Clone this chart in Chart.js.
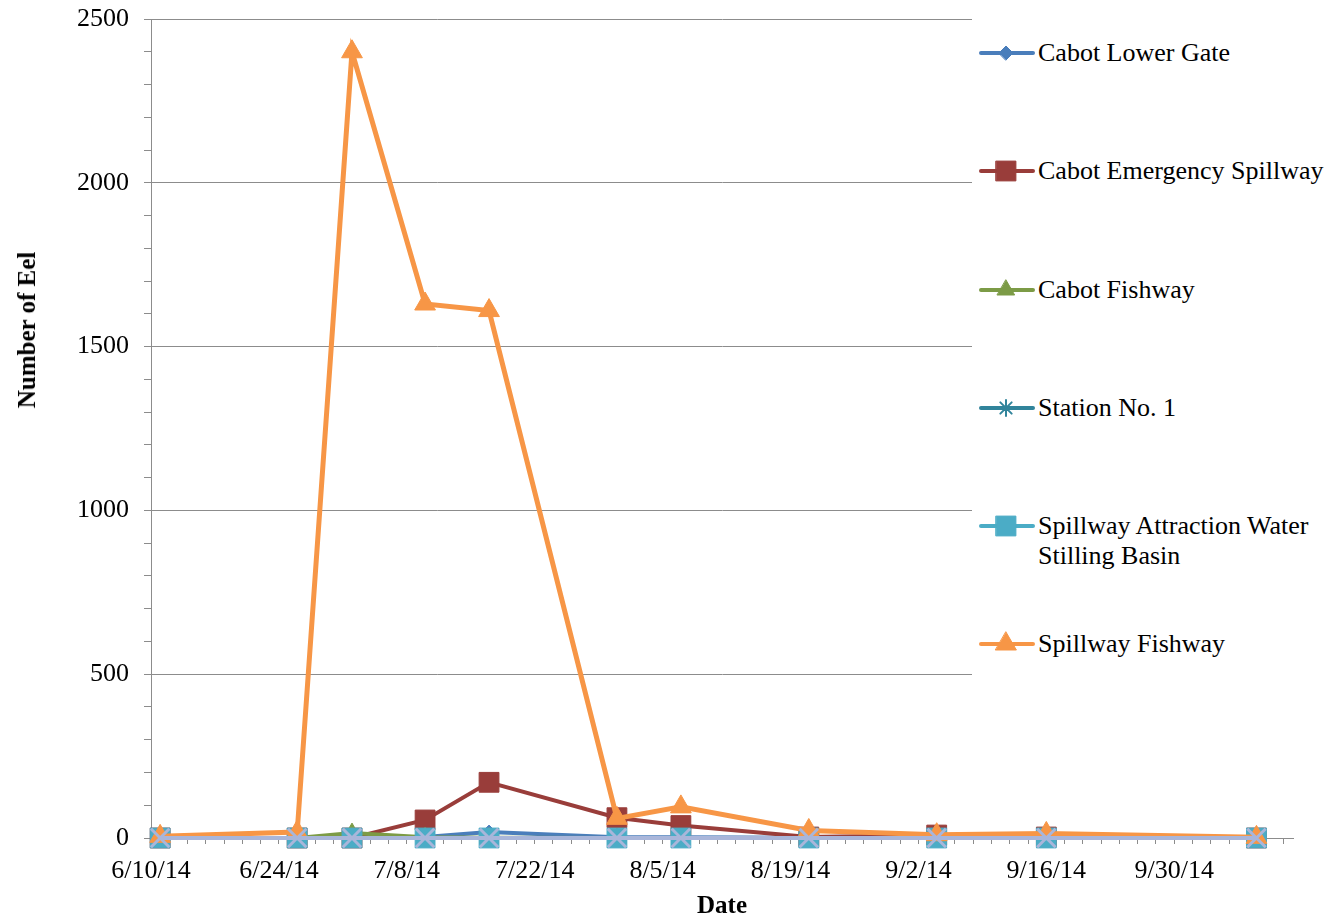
<!DOCTYPE html>
<html>
<head>
<meta charset="utf-8">
<script src="https://cdn.jsdelivr.net/npm/chart.js@4.4.1/dist/chart.umd.min.js"></script>
<style>
  body { margin: 0; background: #fff; }
  #wrap { position: relative; width: 1342px; height: 919px; font-family: "Liberation Serif", "Times New Roman", serif; }
  #chart { position: absolute; left: 0; top: 0; }
  #ytitle { position: absolute; left: 27px; top: 330px; transform: translate(-50%, -50%) rotate(-90deg);
            font-weight: bold; font-size: 25px; white-space: nowrap; color: #000; }
  #legend { position: absolute; left: 972px; top: 0; width: 370px; height: 730px; background: #fff; }
  .item { position: absolute; left: 6px; }
  .item canvas { position: absolute; left: 0; top: 0; }
  .item span { position: absolute; left: 60px; top: 0; font-size: 26px; line-height: 30px; color: #000; white-space: nowrap; }
</style>
</head>
<body>
<div id="wrap">
  <canvas id="chart" width="1342" height="919"></canvas>
  <div id="ytitle">Number of Eel</div>
  <div id="legend"></div>
</div>
<script>
// sampling dates (day offsets from 6/10/14 are used on the x scale)
const baseDate = '6/10/14';
const sampleDates = ['6/11/14', '6/26/14', '7/2/14', '7/10/14', '7/17/14', '7/31/14', '8/7/14', '8/21/14', '9/4/14', '9/16/14', '10/9/14'];

const seriesNames = ['Cabot Lower Gate', 'Cabot Emergency Spillway', 'Cabot Fishway', 'Station No. 1',
                     'Spillway Attraction Water\nStilling Basin', 'Spillway Fishway'];

const cabotLowerGate          = [0, 0, 2, 3, 18, 2, 2, 1, 0, 0, 0];
const cabotEmergencySpillway  = [0, 0, 0, 55, 170, 62, 38, 3, 9, 3, 0];
const cabotFishway            = [0, 0, 15, 2, 1, 0, 0, 0, 0, 0, 0];
const stationNo1              = [0, 0, 0, 0, 0, 0, 0, 0, 0, 0, 0];
const attractionStillingBasin = [0, 0, 0, 0, 0, 0, 0, 0, 0, 0, 0];
const spillwayFishway         = [5, 18, 2400, 1630, 1610, 60, 95, 23, 10, 14, 2];
const unlistedSeries          = [0, 0, 0, 0, 0, 0, 0, 0, 0, 0, 0];

const yTicks = [0, 500, 1000, 1500, 2000, 2500];

function parseDate(s) {
  const p = s.split('/').map(Number);
  return Date.UTC(2000 + p[2], p[0] - 1, p[1]);
}
const base = parseDate(baseDate);
const dayOf = s => Math.round((parseDate(s) - base) / 86400000);
function labelOf(day) {
  const d = new Date(base + day * 86400000);
  return (d.getUTCMonth() + 1) + '/' + d.getUTCDate() + '/' + String(d.getUTCFullYear()).slice(2);
}
const pts = vals => vals.map((v, i) => ({ x: dayOf(sampleDates[i]), y: v }));

const styles = [
  { color: '#4A7EBB', pointStyle: 'rectRot',  radius: 7,  bw: 1 },
  { color: '#993D3A', pointStyle: 'rect',     radius: 14, bw: 1 },
  { color: '#7C9B46', pointStyle: 'triangle', radius: 10, bw: 1 },
  { color: '#31849B', pointStyle: 'star',     radius: 8,  bw: 2 },
  { color: '#4BACC6', pointStyle: 'rect',     radius: 14, bw: 1 },
  { color: '#F79646', pointStyle: 'triangle', radius: 12, bw: 1 },
  { color: '#A9B6DA', pointStyle: 'crossRot', radius: 13, bw: 3 }
];
const values = [cabotLowerGate, cabotEmergencySpillway, cabotFishway, stationNo1,
                attractionStillingBasin, spillwayFishway, unlistedSeries];

// later series are drawn on top, as in the original
const datasets = values.map((v, i) => ({
  label: seriesNames[i] || '',
  data: pts(v),
  order: values.length - i,
  borderColor: styles[i].color,
  backgroundColor: styles[i].color,
  pointBackgroundColor: styles[i].color,
  pointBorderColor: styles[i].color,
  pointStyle: styles[i].pointStyle,
  pointRadius: styles[i].radius,
  pointBorderWidth: styles[i].bw,
  borderWidth: i === 5 ? 5 : 4,
  tension: 0,
  clip: false
}));

const gridGray = '#8C8C8C';
const font = { family: '"Liberation Serif", "Times New Roman", serif', size: 26 };

new Chart(document.getElementById('chart'), {
  type: 'line',
  data: { datasets: datasets },
  options: {
    responsive: false,
    animation: false,
    layout: { padding: { left: 0, right: 49, top: 19, bottom: 0 } },
    plugins: { legend: { display: false }, tooltip: { enabled: false } },
    scales: {
      x: {
        type: 'linear',
        min: 0,
        max: 125,
        afterFit: s => { s.height = 81; },
        afterBuildTicks: s => { s.ticks = []; for (let d = 0; d <= 124; d += 2) s.ticks.push({ value: d }); },
        ticks: {
          autoSkip: false, maxRotation: 0, padding: 12, color: '#000', font: font,
          callback: v => (v % 14 === 0 && v <= 112) ? labelOf(v) : ''
        },
        grid: { drawOnChartArea: false, drawTicks: true, tickLength: 6, tickColor: gridGray },
        border: { color: gridGray, width: 1 },
        title: { display: true, text: 'Date', color: '#000', padding: { top: 0, bottom: 0 },
                 font: { family: font.family, size: 25, weight: 'bold', lineHeight: 1.0 } }
      },
      y: {
        min: 0,
        max: 2500,
        afterFit: s => { s.width = 151; s.paddingTop = 0; s.paddingBottom = 0; },
        afterBuildTicks: s => { s.ticks = []; for (let v = 0; v <= 2500; v += 100) s.ticks.push({ value: v }); },
        ticks: {
          autoSkip: false, padding: 15, color: '#000', font: font,
          callback: v => yTicks.includes(v) ? String(v) : ''
        },
        grid: {
          color: c => (c.tick && c.tick.value % 500 === 0 && c.tick.value > 0) ? gridGray : 'rgba(0,0,0,0)',
          tickColor: gridGray, tickLength: 7, lineWidth: 1
        },
        border: { color: gridGray, width: 1 }
      }
    }
  }
});

// legend
const legend = document.getElementById('legend');
const centers = [53, 171, 290, 408, 526, 644];
seriesNames.forEach((name, i) => {
  const item = document.createElement('div');
  item.className = 'item';
  item.style.top = (centers[i] - 15) + 'px';
  const c = document.createElement('canvas');
  c.width = 58; c.height = 30;
  const ctx = c.getContext('2d');
  ctx.strokeStyle = styles[i].color;
  ctx.fillStyle = styles[i].color;
  ctx.lineWidth = 4;
  ctx.lineCap = 'round';
  ctx.beginPath(); ctx.moveTo(3, 15); ctx.lineTo(55, 15); ctx.stroke();
  if (Chart.helpers && Chart.helpers.drawPoint) {
    ctx.lineWidth = styles[i].bw;
    Chart.helpers.drawPoint(ctx, { pointStyle: styles[i].pointStyle, radius: styles[i].radius, rotation: 0, borderWidth: styles[i].bw }, 28, 15);
  }
  item.appendChild(c);
  const t = document.createElement('span');
  t.innerHTML = name.replace('\n', '<br>');
  item.appendChild(t);
  legend.appendChild(item);
});
</script>
</body>
</html>
